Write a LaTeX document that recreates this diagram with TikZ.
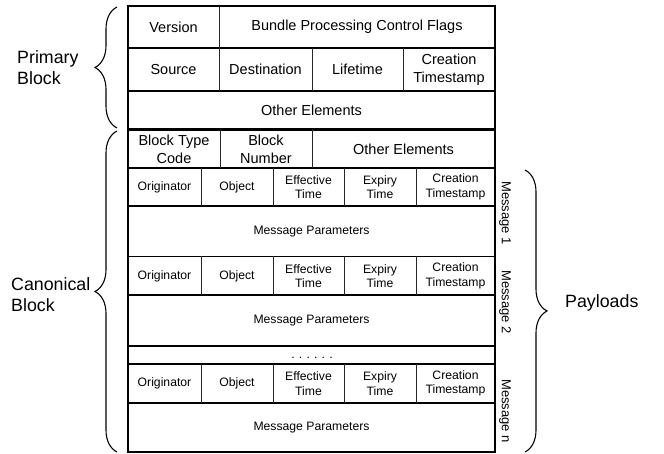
\documentclass[tikz,border=0pt]{standalone}
\usepackage{fontspec}
\setmainfont{Liberation Sans}
\usetikzlibrary{decorations.pathreplacing}
\newcommand{\dk}{\kern4.2pt}
\begin{document}
\begin{tikzpicture}[x=1pt,y=-1pt,
  big/.style={font=\fontsize{14.5}{17.8}\selectfont, align=center, inner sep=0pt},
  small/.style={font=\fontsize{12.2}{14.4}\selectfont, align=center, inner sep=0pt},
  lab/.style={font=\fontsize{17.8}{21}\selectfont, align=left, inner sep=0pt, anchor=west},
  msg/.style={font=\fontsize{13}{15}\selectfont, rotate=-90, inner sep=0pt},
  hl/.style={line width=1.2pt},
  vl/.style={line width=0.8pt, black!85},
  brc/.style={decorate, decoration={brace, amplitude=22pt}, line width=1.1pt}
]
\useasboundingbox (0,0) rectangle (664,454);
% horizontal lines
\foreach \y in {48,91,168,206,256.5,295,346,364,403}
  \draw[hl] (128,\y) -- (495,\y);
\draw[line width=2.6pt] (128,129.5) -- (495,129.5);
% vertical lines
\draw[vl] (219,6) -- (219,48);
\foreach \x in {219,312,403} \draw[vl] (\x,48) -- (\x,91);
\foreach \x in {220,312} \draw[vl] (\x,129.5) -- (\x,168);
\foreach \ya/\yb in {168/206,256.5/295,364/403}
  \foreach \x in {201,273,344,416} \draw[vl] (\x,\ya) -- (\x,\yb);
% outer
\draw[line width=2pt] (128,6) rectangle (495,452);
% primary block
\node[big] (ver) at (173.5,27) {Version};
\node[big] (bpcf) at (357,27) {Bundle Processing Control Flags};
\node[big] (src) at (173.5,69.5) {Source};
\node[big] (dst) at (265.5,69.5) {Destination};
\node[big] (life) at (357.5,69.5) {Lifetime};
\node[big] (cts) at (449,69.5) {Creation\\Timestamp};
\node[big] (oe1) at (311.5,110) {Other Elements};
% canonical header
\node[big] (btc) at (174,149) {Block Type\\Code};
\node[big] (bn) at (266,149) {Block\\Number};
\node[big] (oe2) at (403.5,149) {Other Elements};
% messages
\foreach \n/\yf/\yp in {a/187/231.5, b/276/321, c/383.5/428} {
  \node[small] (orig\n) at (164.5,\yf) {Originator};
  \node[small] (obj\n) at (237,\yf) {Object};
  \node[small] (eff\n) at (308.5,\yf) {Effective\\Time};
  \node[small] (exp\n) at (380,\yf) {Expiry\\Time};
  \node[small] (cre\n) at (455.5,\yf) {Creation\\Timestamp};
  \node[small] (par\n) at (311.5,\yp) {Message Parameters};
}
\node[small, anchor=base] (dots) at (312,358) {.\dk.\dk.\dk.\dk.\dk.};
% message labels
\node[msg] (m1) at (505,213) {Message 1};
\node[msg] (m2) at (505,302) {Message 2};
\node[msg] (mn) at (505,411) {Message n};
% braces
\coordinate (pbB) at (117,128);
\coordinate (pbT) at (117,7);
\coordinate (cbB) at (117,452);
\coordinate (cbT) at (117,131);
\coordinate (plT) at (525,170);
\coordinate (plB) at (525,452);
\draw[brc] (pbB) -- (pbT);
\draw[brc] (cbB) -- (cbT);
\draw[brc] (plT) -- (plB);
\node[lab] (prim) at (17,68) {Primary\\Block};
\node[lab] (canon) at (11,294.5) {Canonical\\Block};
\node[lab] (pay) at (565,303) {Payloads};
\end{tikzpicture}
\end{document}
